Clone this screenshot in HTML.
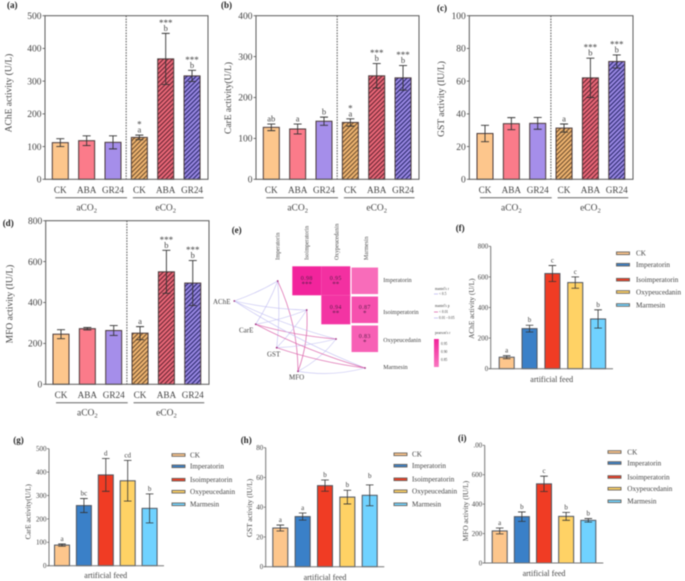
<!DOCTYPE html>
<html lang="en">
<head>
<meta charset="utf-8">
<title>Enzyme activity figure</title>
<style>
html,body{margin:0;padding:0;background:#fff;width:685px;height:581px;overflow:hidden}
svg{display:block;filter:blur(0.45px);font-family:"Liberation Serif","Noto Serif CJK SC",serif}
text{fill:#444}
</style>
</head>
<body>
<svg id="figure" width="685" height="581" viewBox="0 0 685 581" xmlns="http://www.w3.org/2000/svg">
  <defs>
    <pattern id="hatch-ck" width="3.2" height="3.2" patternUnits="userSpaceOnUse" patternTransform="rotate(45)"><rect width="3.2" height="3.2" fill="#f3b873"/><rect width="1.3" height="3.2" fill="#7d5a35"/></pattern>
    <pattern id="hatch-aba" width="3.2" height="3.2" patternUnits="userSpaceOnUse" patternTransform="rotate(45)"><rect width="3.2" height="3.2" fill="#ee6a7a"/><rect width="1.3" height="3.2" fill="#752c3a"/></pattern>
    <pattern id="hatch-gr24" width="3.2" height="3.2" patternUnits="userSpaceOnUse" patternTransform="rotate(45)"><rect width="3.2" height="3.2" fill="#9c8ae6"/><rect width="1.3" height="3.2" fill="#37337a"/></pattern>
  </defs>
  <rect width="685" height="581" fill="#fff"/>
  <g id="panel-a"></g>
  <g id="panel-b"></g>
  <g id="panel-c"></g>
  <g id="panel-d"></g>
  <g id="panel-e"></g>
  <g id="panel-f"></g>
  <g id="panel-g"></g>
  <g id="panel-h"></g>
  <g id="panel-i"></g>
</svg>
<script>
// ---------- chart data ----------
const co2Categories = ['CK','ABA','GR24','CK','ABA','GR24'];
const feedCategories = ['CK','Imperatorin','Isoimperatorin','Oxypeucedanin','Marmesin'];

const aMeans = [112,118,113,128,368,316];
const aErrors = [12,15,20,7,78,17];
const aLetters = ['','','','a','b','b'];
const aStars = ['','','','*','***','***'];
const aTicks = [0,100,200,300,400,500];

const bMeans = [127,123,142,139,253,248];
const bErrors = [8,12,10,9,30,30];
const bLetters = ['ab','a','b','a','b','b'];
const bStars = ['','','','*','***','***'];
const bTicks = [0,100,200,300,400];

const cMeans = [28,34,34.2,31.3,62,72];
const cErrors = [5,3.7,3.6,2.5,12,4];
const cLetters = ['','','','a','b','b'];
const cStars = ['','','','','***','***'];
const cTicks = [0,20,40,60,80,100];

const dMeans = [245,272,263,250,550,495];
const dErrors = [22,6,24,32,105,110];
const dLetters = ['','','','a','b','b'];
const dStars = ['','','','','***','***'];
const dTicks = [0,200,400,600,800];

const fMeans = [75,262,622,563,325];
const fErrors = [10,22,52,37,60];
const fLetters = ['a','b','c','c','b'];
const fTicks = [0,200,400,600,800];
const fTickLabels = ['0','200','400','600','800'];

const gMeans = [88,257,388,363,245];
const gErrors = [5,30,70,87,62];
const gLetters = ['a','bc','d','cd','b'];
const gTicks = [0,100,200,300,400,500];
const gTickLabels = ['0','100','200','300','400','500'];

const hMeans = [26,33.7,54.5,46.8,48];
const hErrors = [2,2.4,3.8,4.6,7];
const hLetters = ['a','a','b','b','b'];
const hTicks = [0,20,40,60,80];
const hTickLabels = ['0','20','40','60','80'];

const iMeans = [218,315,538,317,290];
const iErrors = [20,32,52,27,12];
const iLetters = ['a','b','c','b','b'];
const iTicks = [0,200,400,600,800];
const iTickLabels = ['0','200','400','600','.00'];

// correlation network
const heatSpecies = ['Imperatorin','Isoimperatorin','Oxypeucedanin','Marmesin'];
const heatEnzymes = ['AChE','CarE','GST','MFO'];
const heatValues = [[null,0.98,0.95,0.80],[null,null,0.94,0.87],[null,null,null,0.83]];
const heatStars = [['','***','**',''],['','','**','*'],['','','','*']];
const mantelSignificant = [[0,0,0,1],[0,0,0,1],[0,1,0,0],[0,1,1,0]];
// --------------------------------

const SVGNS = 'http://www.w3.org/2000/svg';
function mk(tag, attrs, parent){
  const el = document.createElementNS(SVGNS, tag);
  for (const k in attrs) el.setAttribute(k, attrs[k]);
  parent.appendChild(el);
  return el;
}
function txt(parent, x, y, str, size, anchor, extra){
  const el = mk('text', Object.assign({x:x, y:y, 'font-size':size, 'text-anchor':anchor||'middle'}, extra||{}), parent);
  el.textContent = str;
  return el;
}
function vtxt(parent, cx, cy, str, size){
  const el = mk('text', {transform:'translate('+cx+','+cy+') rotate(-90)', 'font-size':size, 'text-anchor':'middle'}, parent);
  el.textContent = str;
  return el;
}
function panelTag(parent, x, y, str){
  const el = txt(parent, x, y, str, 9, 'start', {'font-weight':'bold'});
  el.style.fill = '#222';
  
  
}
function co2Label(parent, cx, y, prefix){
  const el = txt(parent, cx, y, prefix + 'CO', 9.5, 'middle');
  const sub = mk('tspan', {dy:2, 'font-size':6.5}, el);
  sub.textContent = '2';
  
  
}

const hatchFills = ['#fdc68c','#fb7b8a','#a58eea','url(#hatch-ck)','url(#hatch-aba)','url(#hatch-gr24)'];

function drawCo2Panel(id, cfg, cats, means, errors, letters, stars, ticks){
  const g = document.getElementById(id);
  const maxV = ticks[ticks.length-1];
  const yScale = v => cfg.bottom - v / maxV * (cfg.bottom - cfg.top);
  const xScale = i => cfg.x0 + i * cfg.step;

  panelTag(g, cfg.tagX, cfg.tagY, cfg.tag);

  const title = vtxt(g, cfg.titleX, cfg.titleY, cfg.title, 9.5);
  
  

  ticks.forEach(function(t){
    const tick = mk('line', {x1:cfg.left-2.5, x2:cfg.left, y1:yScale(t), y2:yScale(t), stroke:'#555', 'stroke-width':0.8}, g);
    
    
    const lab = txt(g, cfg.left-3.5, yScale(t)+3.2, String(t), 9.5, 'end');
    
    
  });

  means.forEach(function(v, i){
    const x = xScale(i);
    const bar = mk('rect', {x:x-cfg.barW/2, y:yScale(v), width:cfg.barW, height:cfg.bottom-yScale(v), fill:hatchFills[i], stroke:'#4a3a3a', 'stroke-width':1}, g);
    
    

    const eHi = yScale(v + errors[i]), eLo = yScale(v - errors[i]);
    const err = mk('path', {d:'M'+(x-4)+' '+eHi+'H'+(x+4)+'M'+x+' '+eHi+'V'+eLo+'M'+(x-4)+' '+eLo+'H'+(x+4), fill:'none', stroke:'#333', 'stroke-width':0.9}, g);
    
    

    if (letters[i]) {
      const l = txt(g, x, eHi-2.5, letters[i], 8.5);
      
      
    }
    if (stars[i]) {
      const s = txt(g, x, eHi-7.5, stars[i], 9);
      
      
    }
    const cat = txt(g, x, cfg.bottom+13.5, cats[i], 9.2);
    
    
  });

  const frame = mk('rect', {x:cfg.left, y:cfg.top, width:cfg.right-cfg.left, height:cfg.bottom-cfg.top, fill:'none', stroke:'#5a5a5a', 'stroke-width':1}, g);
  
  

  const midX = (xScale(2) + xScale(3)) / 2;
  const div = mk('line', {x1:midX, x2:midX, y1:cfg.top, y2:cfg.bottom, stroke:'#555', 'stroke-width':1, 'stroke-dasharray':'1.6 1.2'}, g);
  
  

  const lineY = cfg.bottom + 18.5;
  const l1 = mk('line', {x1:xScale(0)-5, x2:xScale(2)+14, y1:lineY, y2:lineY, stroke:'#666', 'stroke-width':1}, g);
  
  
  const l2 = mk('line', {x1:xScale(3)-6.5, x2:xScale(5)+11.5, y1:lineY, y2:lineY, stroke:'#666', 'stroke-width':1}, g);
  
  
  co2Label(g, xScale(1), cfg.bottom+31, 'a');
  co2Label(g, xScale(4), cfg.bottom+31, 'e');
}

drawCo2Panel('panel-a', {tag:'(a)',tagX:7,tagY:8,title:'AChE activity (U/L)',titleX:11.5,titleY:93,left:45,right:208,top:15.7,bottom:179.3,x0:60.3,step:26.35,barW:16}, co2Categories, aMeans, aErrors, aLetters, aStars, aTicks);
drawCo2Panel('panel-b', {tag:'(b)',tagX:221,tagY:8,title:'CarE activity(U/L)',titleX:231,titleY:98,left:256,right:419,top:15.7,bottom:179.3,x0:271.3,step:26.35,barW:16}, co2Categories, bMeans, bErrors, bLetters, bStars, bTicks);
drawCo2Panel('panel-c', {tag:'(c)',tagX:437,tagY:11,title:'GST activity (IU/L)',titleX:444,titleY:99,left:469.3,right:633,top:15.7,bottom:179.3,x0:485,step:26.35,barW:16}, co2Categories, cMeans, cErrors, cLetters, cStars, cTicks);
drawCo2Panel('panel-d', {tag:'(d)',tagX:2.7,tagY:226,title:'MFO activity (IU/L)',titleX:12.5,titleY:304,left:45.7,right:209,top:220.7,bottom:384.3,x0:61,step:26.35,barW:16}, co2Categories, dMeans, dErrors, dLetters, dStars, dTicks);

const feedFills = ['#fdc68c','#3a80c8','#f03c24','#ffd265','#70d2ff'];

function drawFeedPanel(id, cfg, cats, means, errors, letters, ticks, tickLabels){
  const g = document.getElementById(id);
  const maxV = ticks[ticks.length-1];
  const yScale = v => cfg.bottom - v / maxV * (cfg.bottom - cfg.top);
  const xScale = i => cfg.x0 + i * cfg.step;

  panelTag(g, cfg.tagX, cfg.tagY, cfg.tag);

  const title = vtxt(g, cfg.titleX, cfg.titleY, cfg.title, 7.3);
  
  

  means.forEach(function(v, i){
    const x = xScale(i);
    const bar = mk('rect', {x:x-cfg.barW/2, y:yScale(v), width:cfg.barW, height:cfg.bottom-yScale(v), fill:feedFills[i], stroke:'#4f5560', 'stroke-width':1}, g);
    
    

    const eHi = yScale(v + errors[i]), eLo = yScale(v - errors[i]);
    const err = mk('path', {d:'M'+(x-3.8)+' '+eHi+'H'+(x+3.8)+'M'+x+' '+eHi+'V'+eLo+'M'+(x-3.8)+' '+eLo+'H'+(x+3.8), fill:'none', stroke:'#333', 'stroke-width':0.8}, g);
    
    

    const l = txt(g, x, eHi-(cfg.letterGap ? cfg.letterGap[i] : 3), letters[i], 7);
    
    
  });

  ticks.forEach(function(t, i){
    const tick = mk('line', {x1:cfg.left-2, x2:cfg.left, y1:yScale(t), y2:yScale(t), stroke:'#666', 'stroke-width':0.8}, g);
    
    
    const lab = txt(g, cfg.left-2.5, yScale(t)+2.4, tickLabels[i], 7, 'end');
    
    
  });

  const yAxis = mk('line', {x1:cfg.left, x2:cfg.left, y1:cfg.top, y2:cfg.bottom, stroke:'#777', 'stroke-width':1}, g);
  
  
  const xAxis = mk('line', {x1:cfg.left-2, x2:cfg.right, y1:cfg.bottom, y2:cfg.bottom, stroke:'#777', 'stroke-width':1}, g);
  
  

  const xl = txt(g, cfg.xLabelX, cfg.xLabelY, 'artificial feed', 8);
  
  

  cats.forEach(function(name, i){
    const sw = mk('rect', {x:cfg.legendX, y:cfg.legendY[i]-1.3, width:cfg.legendW, height:2.6, fill:feedFills[i], stroke:'#66605a', 'stroke-width':0.9}, g);
    
    
    const lt = txt(g, cfg.legendTextX, cfg.legendY[i]+2.3, name, 7.2, 'start');
    
    
  });
}

drawFeedPanel('panel-f', {tag:'(f)',tagX:455.7,tagY:231,title:'AChE activity (U/L)',titleX:474,titleY:308.7,left:490.7,right:613,top:246.3,bottom:368.7,x0:506.7,step:22.85,barW:15,xLabelX:551.7,xLabelY:382,legendX:616.5,legendW:13,legendTextX:636,legendY:[253.3,264.7,279.7,292,305]}, feedCategories, fMeans, fErrors, fLetters, fTicks, fTickLabels);
drawFeedPanel('panel-g', {tag:'(g)',tagX:13.3,tagY:443,title:'CarE activity(U/L)',titleX:30.5,titleY:511.7,left:49,right:164,top:448.7,bottom:565.7,x0:62,step:21.9,barW:15,xLabelX:105.7,xLabelY:578,legendX:172,legendW:13,legendTextX:190,legendY:[455,466.3,479.7,491.7,504.3]}, feedCategories, gMeans, gErrors, gLetters, gTicks, gTickLabels);
drawFeedPanel('panel-h', {tag:'(h)',tagX:240.7,tagY:443,title:'GST activity (IU/L)',titleX:252,titleY:508,left:265.7,right:384.3,top:447.7,bottom:566.7,x0:280.3,step:22.35,barW:15,letterGap:[3,3,3,3,7],xLabelX:325,xLabelY:580,legendX:394,legendW:13,legendTextX:412,legendY:[454.3,465.7,479.3,491.3,504.3]}, feedCategories, hMeans, hErrors, hLetters, hTicks, hTickLabels);
drawFeedPanel('panel-i', {tag:'(i)',tagX:458,tagY:441,title:'MFO activity (IU/L)',titleX:468,titleY:511,left:484.7,right:603.3,top:445.3,bottom:563,x0:499.7,step:22.15,barW:15,xLabelX:544,xLabelY:576,legendX:608,legendW:13,legendTextX:627.3,legendY:[452,463,477,488.7,501.3]}, feedCategories, iMeans, iErrors, iLetters, iTicks, iTickLabels);

// ---------- panel e ----------
(function(){
  const g = document.getElementById('panel-e');
  panelTag(g, 231.7, 233, '(e)');

  const cellX = c => 292.3 + (c-1) * 29;
  const cellY = r => 266.3 + r * 29;
  function heatColor(v){
    const t = Math.max(0, Math.min(1, (v - 0.80) / 0.18));
    const r = Math.round(248 - 6*t), gg = Math.round(108 - 72*t), b = Math.round(186 - 30*t);
    return 'rgb('+r+','+gg+','+b+')';
  }

  const speciesPos = [[277.7,281],[306.7,310],[336,339],[365,368]];
  const enzymePos = [[234.3,301],[255.7,324.3],[276.7,347.7],[298,371.3]];

  mantelSignificant.forEach(function(row, s){
    row.forEach(function(sig, e){
      const a = speciesPos[s], b = enzymePos[e];
      const dx = b[0]-a[0], dy = b[1]-a[1];
      const bend = e === 3 ? 0.11 : 0.05;
      const cx = (a[0]+b[0])/2 + dy*bend, cy = (a[1]+b[1])/2 - dx*bend;
      const edge = mk('path', {d:'M'+a[0]+' '+a[1]+'Q'+cx+' '+cy+' '+b[0]+' '+b[1], fill:'none', stroke: sig ? '#dc68ad' : '#c2bff2', 'stroke-width': sig ? 0.75 : 0.6}, g);
      
      
    });
  });
  speciesPos.concat(enzymePos).forEach(function(p){
    const n = mk('circle', {cx:p[0], cy:p[1], r:0.9, fill:'#a0307f'}, g);
    
    
  });

  heatValues.forEach(function(row, r){
    row.forEach(function(v, c){
      if (v === null) return;
      const size = v >= 0.9 ? 29 : 26.5;
      const cx = cellX(c) + 14.5, cy = cellY(r) + 14.5;
      const cell = mk('rect', {x:cx-size/2, y:cy-size/2, width:size, height:size, fill:heatColor(v)}, g);
      
      
      if (heatStars[r][c]) {
        const vl = txt(g, cx, cy-1, v.toFixed(2), 6, 'middle', {'letter-spacing':'0.4'});
        vl.style.fill = '#5a1d4a';
        
        
        const st = txt(g, cx, cy+5.5, heatStars[r][c], 7);
        st.style.fill = '#5a1d4a';
        
        
      }
    });
  });

  const colLabelX = [277.7,306.7,336.7,366];
  heatSpecies.forEach(function(name, i){
    const el = mk('text', {transform:'translate('+(colLabelX[i]+2)+',260) rotate(-90)', 'font-size':5.8, 'text-anchor':'start'}, g);
    el.textContent = name;
    
    
  });
  const rowLabelY = [282,314,342,369];
  heatSpecies.forEach(function(name, i){
    const el = txt(g, 383.3, rowLabelY[i], name, 6, 'start');
    
    
  });

  const enzLabel = [[213,304,'start'],[239,332.5,'start'],[267,356.5,'start'],[289,379.5,'start']];
  heatEnzymes.forEach(function(name, i){
    const el = txt(g, enzLabel[i][0], enzLabel[i][1], name, 7, enzLabel[i][2]);
    
    
  });

  const legendLines = [[435,290,"mantel's r"],[439,295,'< 0.5'],[435,307,"mantel's p"],[439,313,'< 0.01'],[439,319,'0.01 - 0.05'],[435,334,"pearson's r"]];
  legendLines.forEach(function(l){
    const el = txt(g, l[0], l[1], l[2], 3.6, 'start');
    
    
  });
  const k1 = mk('line', {x1:434,x2:438,y1:294,y2:294,stroke:'#b5b2ee','stroke-width':0.7}, g);
  
  
  const k2 = mk('line', {x1:434,x2:438,y1:312,y2:312,stroke:'#d8559f','stroke-width':0.7}, g);
  
  
  const k3 = mk('line', {x1:434,x2:438,y1:318,y2:318,stroke:'#b5b2ee','stroke-width':0.7}, g);
  
  

  const lg = mk('linearGradient', {id:'pearson-gradient', x1:0, y1:0, x2:0, y2:1}, g);
  mk('stop', {offset:'0', 'stop-color':'#f2249a'}, lg);
  mk('stop', {offset:'1', 'stop-color':'#f976c0'}, lg);
  const bar = mk('rect', {x:434, y:339, width:4.8, height:28, fill:'url(#pearson-gradient)'}, g);
  
  
  [[345,'0.95'],[353,'0.90'],[361,'0.85']].forEach(function(l){
    const el = txt(g, 441, l[0], l[1], 3.6, 'start');
    
    
  });
})();
</script>
</body>
</html>
